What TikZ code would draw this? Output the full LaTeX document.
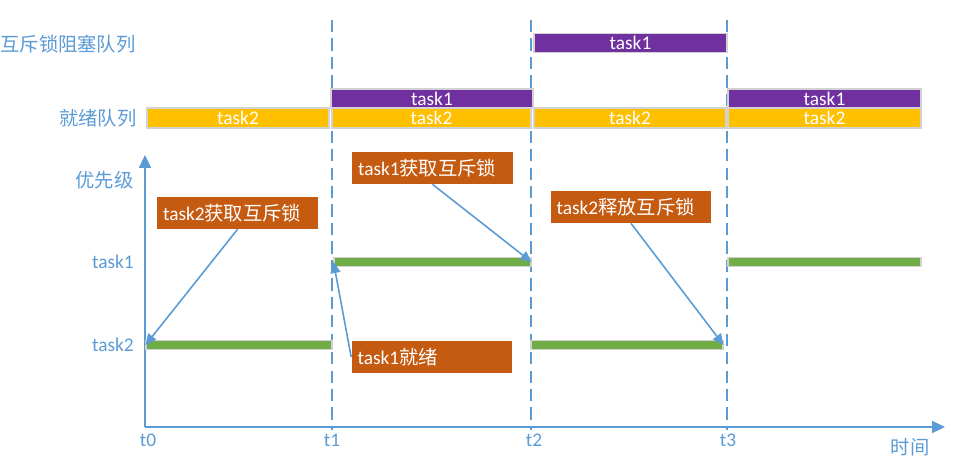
\documentclass[tikz,border=0pt]{standalone}
\usepackage{fontspec}
\setmainfont{Carlito}
\newfontfamily\cjk{Noto Sans CJK SC}
\usetikzlibrary{arrows.meta}
\definecolor{lblue}{HTML}{5B9BD5}
\definecolor{qorange}{HTML}{FFC000}
\definecolor{qpurple}{HTML}{7030A0}
\definecolor{lgreen}{HTML}{70AD47}
\definecolor{cbrown}{HTML}{C55A11}
\begin{document}
\begin{tikzpicture}
      [x=0.02cm,y=-0.02cm,font=\fontsize{11}{13}\selectfont,
       qbox/.style={rectangle,draw=gray!35,line width=0.6pt,text=white,minimum height=0.4cm,inner sep=0pt},
       rdy/.style={qbox,fill=qorange},
       blk/.style={qbox,fill=qpurple,minimum height=0.38cm},
       lvl/.style={qbox,fill=lgreen,minimum height=0.18cm},
       callout/.style={rectangle,fill=cbrown,text=white,text width=2.98cm,inner xsep=0.12cm,minimum height=0.64cm,align=left},
       lbl/.style={text=lblue,anchor=east,inner sep=0pt},
       axis/.style={draw=lblue,line width=1.2pt,-{Triangle[length=0.26cm,width=0.24cm]}},
       pointer/.style={draw=lblue,line width=0.9pt,-{Triangle[length=0.22cm,width=0.2cm]}}]
      \useasboundingbox (0,0) rectangle (954,465);

      % time marks
      \foreach \x in {332,531,727}
      \draw[lblue,line width=1.1pt,dash pattern=on 7pt off 3.5pt] (\x,20) -- (\x,430);

      \coordinate (o) at (145,427);
      \coordinate (ytop) at (145,155);
      \coordinate (xend) at (945,427);
      \draw[axis] (o) -- (ytop);
      \draw[axis] (o) -- (xend);

      \foreach \x/\t in {148/t0,332/t1,534/t2,728/t3}
      \node[text=lblue] (\t) at (\x,440) {\t};
      \node[text=lblue] (time) at (910,447) {\cjk 时间};

      \node[lbl] (lblk) at (136,44) {\cjk 互斥锁阻塞队列};
      \node[lbl] (lrdy) at (137,118) {\cjk 就绪队列};
      \node[lbl] (lpri) at (134,180) {\cjk 优先级};
      \node[lbl] (lt1) at (134,262) {task1};
      \node[lbl] (lt2) at (134,345) {task2};

      % queues
      \node[blk,minimum width=3.86cm] (b1) at (630.5,43) {task1};
      \node[blk,minimum width=4.04cm] (p1) at (432,98.5) {task1};
      \node[blk,minimum width=3.86cm] (p2) at (824.5,98.5) {task1};
      \node[rdy,minimum width=3.64cm] (r1) at (238,118) {task2};
      \node[rdy,minimum width=3.98cm] (r2) at (431.5,118) {task2};
      \node[rdy,minimum width=3.84cm] (r3) at (630,118) {task2};
      \node[rdy,minimum width=3.86cm] (r4) at (824.5,118) {task2};

      % running priority
      \node[lvl,minimum width=3.72cm] (g1) at (239,345) {};
      \node[lvl,minimum width=3.94cm] (g2) at (432.5,262) {};
      \node[lvl,minimum width=3.84cm] (g3) at (627,345) {};
      \node[lvl,minimum width=3.86cm] (g4) at (824.5,262) {};

      \node[callout] (c1) at (237.5,213) {task2\cjk 获取互斥锁};
      \node[callout] (c2) at (432.5,168) {task1\cjk 获取互斥锁};
      \node[callout] (c3) at (631,207) {task2\cjk 释放互斥锁};
      \node[callout] (c4) at (432,357) {task1\cjk 就绪};

      \draw[pointer] (c1.south) -- (g1.west);
      \draw[pointer] (c2.south) -- (g2.east);
      \draw[pointer] (c3.south) -- (g3.east);
      \draw[pointer] (c4.west) -- (g2.west);
\end{tikzpicture}
\end{document}
